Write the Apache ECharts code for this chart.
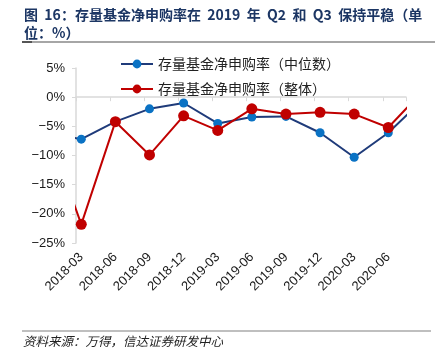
<!DOCTYPE html>
<html>
<head>
<meta charset="utf-8">
<script src="https://cdn.jsdelivr.net/npm/echarts@6/dist/echarts.min.js"></script>
<style>
html,body{margin:0;padding:0;background:#fff;}
#c{width:444px;height:359px;}
</style>
</head>
<body>
<div id="c"></div>
<script>
// categories (first and last lie outside the visible window, clipped by the plot)
const categories = ["2017-12","2018-03","2018-06","2018-09","2018-12","2019-03","2019-06","2019-09","2019-12","2020-03","2020-06","2020-09"];
const medianRate = [-6.2,-7.2,-4.2,-2.0,-1.0,-4.5,-3.4,-3.3,-6.1,-10.3,-6.1,-0.5];
const overallRate = [-5.5,-21.8,-4.2,-9.9,-3.2,-5.7,-2.0,-2.9,-2.6,-2.9,-5.2,1.0];
const seriesNames = ["存量基金净申购率（中位数）","存量基金净申购率（整体）"];
const yTicks = [5,0,-5,-10,-15,-20,-25];
const labelIdx = [1,2,3,4,5,6,7,8,9,10];
const titleText = "图  16：存量基金净申购率在  2019  年  Q2  和  Q3  保持平稳（单\n位：%）";
const sourceText = "资料来源：万得，信达证券研发中心";

const chart = echarts.init(document.getElementById('c'), null, {renderer:'canvas'});
const xmin = 0.845, xmax = 10.519;
const toPts = arr => arr.map((v,i)=>[i,v]);
const axisFont = {fontFamily:'Liberation Sans, Arial', fontSize:13, color:'#1a1a1a'};
chart.setOption({
  animation:false,
  backgroundColor:'#fff',
  title:{
    text:titleText, left:19, top:1,
    textStyle:{fontFamily:'Noto Sans CJK SC', fontWeight:'bold', fontSize:14, lineHeight:18, color:'#1c3664'}
  },
  graphic:[
    {type:'line', shape:{x1:22,y1:42,x2:435,y2:42}, style:{stroke:'#a6a6a6', lineWidth:2}},
    {type:'line', shape:{x1:22,y1:42,x2:32,y2:42}, style:{stroke:'#555', lineWidth:2}},
    {type:'line', shape:{x1:22,y1:331,x2:431,y2:331}, style:{stroke:'#808080', lineWidth:1.2}},
    {type:'text', left:23, top:335, style:{text:sourceText, font:'italic 12.5px "Noto Sans CJK SC"', fill:'#222'}}
  ],
  legend:{
    orient:'vertical', left:115, top:52, itemWidth:32, itemHeight:11, itemGap:11,
    textStyle:{fontFamily:'Noto Sans CJK SC', fontSize:14, color:'#222'},
    data:seriesNames
  },
  grid:{left:76, right:38, top:68, bottom:116},
  xAxis:[
    {type:'value', min:xmin, max:xmax, interval:1,
     axisLine:{onZero:true, lineStyle:{color:'#d9d9d9', width:1.5}},
     axisTick:{show:true, length:4, lineStyle:{color:'#d9d9d9'}},
     axisLabel:{show:false}, splitLine:{show:false}},
    {type:'value', min:xmin, max:xmax, position:'bottom',
     axisLine:{show:false, onZero:false}, axisTick:{show:false}, splitLine:{show:false},
     axisLabel:{show:true, customValues:labelIdx, rotate:45, margin:12, ...axisFont,
       formatter:v=>categories[Math.round(v)]}}
  ],
  yAxis:{
    type:'value', min:-25, max:5, interval:5,
    axisLine:{show:true, lineStyle:{color:'#d9d9d9', width:1.5}},
    axisTick:{show:true, length:4, lineStyle:{color:'#d9d9d9'}},
    splitLine:{show:false},
    axisLabel:{...axisFont, margin:11, formatter:v=>(v<0?'−'+(-v):v)+'%'}
  },
  series:[
    {name:seriesNames[0], type:'line', xAxisIndex:0, data:toPts(medianRate), clip:true,
     symbol:'circle', symbolSize:9, lineStyle:{color:'#1f3b7a', width:2},
     itemStyle:{color:'#0a72c4'}, z:2},
    {name:seriesNames[1], type:'line', xAxisIndex:0, data:toPts(overallRate), clip:true,
     symbol:'circle', symbolSize:11, lineStyle:{color:'#c00000', width:2},
     itemStyle:{color:'#c00000'}, z:3}
  ]
});
</script>
</body>
</html>
